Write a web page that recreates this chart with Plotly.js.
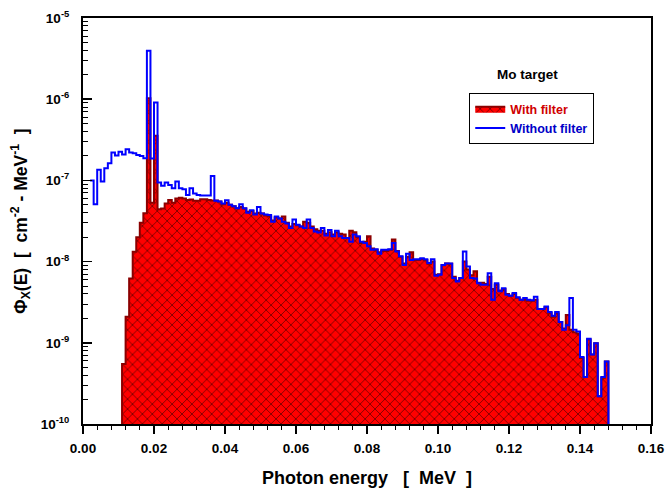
<!DOCTYPE html>
<html>
<head>
<meta charset="utf-8">
<script src="https://cdn.plot.ly/plotly-3.0.1.min.js"></script>
<style>html,body{margin:0;padding:0;background:#fff;}</style>
</head>
<body>
<div id="chart" style="width:668px;height:488px;"></div>
<script>
// Histogram bins: 1 keV wide, left edges in keV
const binWidthMeV = 0.001;
const withoutFilterStartKeV = 2;   // first bin 2-3 keV
const withFilterStartKeV = 11;     // first bin 11-12 keV

// Without filter, bins 2..147 keV
const withoutFilter = [
  1.0e-7, 5.1e-8, 1.35e-7, 9.7e-8, 1.41e-7, 1.63e-7, 2.2e-7, 2.03e-7, 2.26e-7, 2.08e-7,
  2.42e-7, 2.2e-7, 2.16e-7, 2.06e-7, 2.0e-7, 1.87e-7, 3.94e-6, 1.86e-7, 9.1e-7, 9.4e-8,
  8.6e-8, 9.4e-8, 8.8e-8, 8.0e-8, 9.7e-8, 8.0e-8, 7.8e-8, 6.6e-8, 8.0e-8, 6.9e-8,
  6.6e-8, 6.5e-8, 6.5e-8, 6.5e-8, 1.13e-7, 5.6e-8, 5.5e-8, 5.2e-8, 5.7e-8, 5.0e-8,
  4.8e-8, 4.55e-8, 5.1e-8, 4.55e-8, 4.0e-8, 4.3e-8, 3.8e-8, 4.7e-8, 3.9e-8, 3.8e-8,
  3.75e-8, 3.1e-8, 3.6e-8, 3.4e-8, 3.1e-8, 2.95e-8, 2.6e-8, 3.3e-8, 2.85e-8, 2.7e-8,
  2.6e-8, 3.3e-8, 2.6e-8, 2.35e-8, 2.28e-8, 2.6e-8, 2.1e-8, 2.45e-8, 2.05e-8, 2.4e-8,
  2.05e-8, 1.95e-8, 1.95e-8, 1.75e-8, 2.15e-8, 2.05e-8, 1.75e-8, 1.7e-8, 1.55e-8, 1.4e-8,
  1.42e-8, 1.25e-8, 1.4e-8, 1.4e-8, 1.42e-8, 1.7e-8, 1.33e-8, 1.16e-8, 9.1e-9, 1.25e-8,
  1.05e-8, 1.07e-8, 1.07e-8, 1.1e-8, 1.07e-8, 9.6e-9, 1.07e-8, 6.7e-9, 6.9e-9, 9.1e-9,
  9.5e-9, 9.5e-9, 6.3e-9, 5.7e-9, 6.3e-9, 1.33e-8, 8.7e-9, 6.3e-9, 6.2e-9, 5.4e-9,
  5.2e-9, 5.2e-9, 7.2e-9, 3.4e-9, 5.4e-9, 4.3e-9, 4.7e-9, 3.9e-9, 3.8e-9, 4.1e-9,
  3.65e-9, 3.4e-9, 3.55e-9, 3.4e-9, 3.35e-9, 3.7e-9, 2.6e-9, 2.6e-9, 2.8e-9, 2.4e-9,
  2.15e-9, 2.4e-9, 1.8e-9, 1.45e-9, 1.65e-9, 3.55e-9, 1.45e-9, 1.38e-9, 6.7e-10, 3.8e-10,
  1.12e-9, 7.2e-10, 9.9e-10, 2.2e-10, 3.8e-10, 5.9e-10
];

// With filter, bins 11..147 keV
const withFilter = [
  5.5e-10, 2.1e-9, 6.2e-9, 1.32e-8, 2.0e-8, 3.0e-8, 3.95e-8, 1.03e-6, 5.3e-8, 3.55e-7,
  4.4e-8, 4.5e-8, 5.2e-8, 5.75e-8, 5.3e-8, 6.0e-8, 6.1e-8, 6.0e-8, 5.75e-8, 5.8e-8,
  5.6e-8, 5.6e-8, 5.85e-8, 5.85e-8, 5.75e-8, 5.65e-8, 5.65e-8, 5.5e-8, 5.1e-8, 5.3e-8,
  5.0e-8, 4.8e-8, 4.55e-8, 4.7e-8, 4.5e-8, 4.1e-8, 4.2e-8, 3.9e-8, 4.0e-8, 3.9e-8,
  3.7e-8, 3.6e-8, 3.2e-8, 3.5e-8, 3.4e-8, 3.6e-8, 3.0e-8, 2.7e-8, 2.9e-8, 2.8e-8,
  2.7e-8, 3.1e-8, 3.0e-8, 2.7e-8, 2.5e-8, 2.4e-8, 2.4e-8, 2.2e-8, 2.3e-8, 2.15e-8,
  2.3e-8, 2.2e-8, 2.15e-8, 1.95e-8, 2.4e-8, 2.3e-8, 2.0e-8, 1.7e-8, 1.75e-8, 2.05e-8,
  1.45e-8, 1.4e-8, 1.3e-8, 1.35e-8, 1.35e-8, 1.4e-8, 1.87e-8, 1.35e-8, 1.15e-8, 9.5e-9,
  1.15e-8, 1.3e-8, 1.05e-8, 1.05e-8, 1.08e-8, 1.05e-8, 9.4e-9, 1.0e-8, 6.9e-9, 7.0e-9,
  9.0e-9, 9.5e-9, 9.4e-9, 6.5e-9, 5.8e-9, 6.3e-9, 1.0e-8, 8.0e-9, 6.8e-9, 7.6e-9,
  5.5e-9, 5.5e-9, 5.3e-9, 6.5e-9, 4.6e-9, 5.2e-9, 4.4e-9, 4.6e-9, 4.0e-9, 3.8e-9,
  4.0e-9, 3.6e-9, 3.4e-9, 3.4e-9, 3.3e-9, 3.3e-9, 3.4e-9, 2.6e-9, 2.6e-9, 2.75e-9,
  2.35e-9, 2.1e-9, 2.3e-9, 1.8e-9, 1.5e-9, 2.2e-9, 1.45e-9, 1.35e-9, 1.3e-9, 6.5e-10,
  3.8e-10, 1.1e-9, 7.2e-10, 9.9e-10, 2.2e-10, 3.7e-10, 5.9e-10
];

const yTickVals = [1e-10, 1e-9, 1e-8, 1e-7, 1e-6, 1e-5];
const yTickText = ['10<sup>-10</sup>', '10<sup>-9</sup>', '10<sup>-8</sup>', '10<sup>-7</sup>', '10<sup>-6</sup>', '10<sup>-5</sup>'];

const FLOOR = 1e-12; // below the visible range, used to close the step outline

function stepXY(startKeV, values, dropStart) {
  const x = [], y = [];
  if (dropStart) { x.push(startKeV * binWidthMeV); y.push(FLOOR); }
  for (let i = 0; i < values.length; i++) {
    x.push((startKeV + i) * binWidthMeV);
    y.push(values[i]);
  }
  x.push((startKeV + values.length) * binWidthMeV); y.push(values[values.length - 1]);
  x.push((startKeV + values.length) * binWidthMeV); y.push(FLOOR);
  return {x, y};
}

const red = stepXY(withFilterStartKeV, withFilter, true);
const blue = stepXY(withoutFilterStartKeV, withoutFilter, false);

const minorY = [];
for (let d = -10; d < -5; d++) for (let m = 2; m <= 9; m++) minorY.push(m * Math.pow(10, d));

const FONT = 'Liberation Sans, Arial, sans-serif';

const traces = [
  {
    x: red.x, y: red.y, type: 'scatter', mode: 'lines',
    line: {shape: 'hv', color: '#8b0000', width: 2},
    fill: 'toself', fillcolor: '#ff0000',
    fillpattern: {shape: 'x', fgcolor: '#6e0000', bgcolor: '#ff0000', size: 7, solidity: 0.22},
    name: '<span style="color:#d00000">With filter</span>',
    hoverinfo: 'skip'
  },
  {
    x: blue.x, y: blue.y, type: 'scatter', mode: 'lines',
    line: {shape: 'hv', color: '#0000ff', width: 2},
    name: '<span style="color:#0000c8">Without filter</span>',
    hoverinfo: 'skip'
  }
];

const layout = {
  width: 668, height: 488,
  margin: {l: 83, r: 17, t: 18, b: 64},
  paper_bgcolor: '#ffffff', plot_bgcolor: '#ffffff',
  font: {family: FONT, color: '#000'},
  showlegend: true,
  legend: {
    x: 0.68, y: 0.815, xanchor: 'left', yanchor: 'top',
    bgcolor: '#ffffff', bordercolor: '#000', borderwidth: 1,
    font: {family: FONT, size: 12.5, weight: 'bold'},
    tracegroupgap: 0, itemwidth: 30
  },
  xaxis: {
    range: [0, 0.16], tick0: 0, dtick: 0.02, tickformat: '.2f',
    ticks: 'outside', ticklen: 8, tickwidth: 1.5, tickcolor: '#000',
    showline: true, linewidth: 2, linecolor: '#000', mirror: true,
    showgrid: false, zeroline: false,
    minor: {ticks: 'outside', ticklen: 4, tickwidth: 1, tickcolor: '#000', dtick: 0.004, tick0: 0, showgrid: false},
    tickfont: {family: FONT, size: 13.5, weight: 'bold'},
    ticklabelstandoff: 3,
    title: {text: 'Photon energy\u00a0\u00a0\u00a0[\u00a0\u00a0MeV\u00a0\u00a0]', font: {family: FONT, size: 18, weight: 'bold'}, standoff: 21}
  },
  yaxis: {
    type: 'log', range: [-10, -5],
    tickmode: 'array', tickvals: yTickVals, ticktext: yTickText,
    ticks: 'inside', ticklen: 9, tickwidth: 1.5, tickcolor: '#000',
    showline: true, linewidth: 2, linecolor: '#000', mirror: true,
    showgrid: false, zeroline: false,
    minor: {ticks: 'inside', ticklen: 5, tickwidth: 1, tickcolor: '#000', tickmode: 'array', tickvals: minorY, showgrid: false},
    tickfont: {family: FONT, size: 13.5, weight: 'bold'},
    ticklabelstandoff: 9,
    title: {text: '\u03a6<sub>X</sub>(E)\u00a0\u00a0[\u00a0\u00a0cm<sup>-2</sup>\u00a0-\u00a0MeV<sup>-1</sup>\u00a0\u00a0]', font: {family: FONT, size: 17.5, weight: 'bold'}, standoff: 9}
  },
  annotations: [
    {xref: 'paper', yref: 'paper', x: 0.782, y: 0.862, text: 'Mo target', showarrow: false,
     font: {family: FONT, size: 13.5, weight: 'bold', color: '#000'}, xanchor: 'center', yanchor: 'middle'}
  ]
};

Plotly.newPlot('chart', traces, layout, {displayModeBar: false, staticPlot: true});
</script>
</body>
</html>
